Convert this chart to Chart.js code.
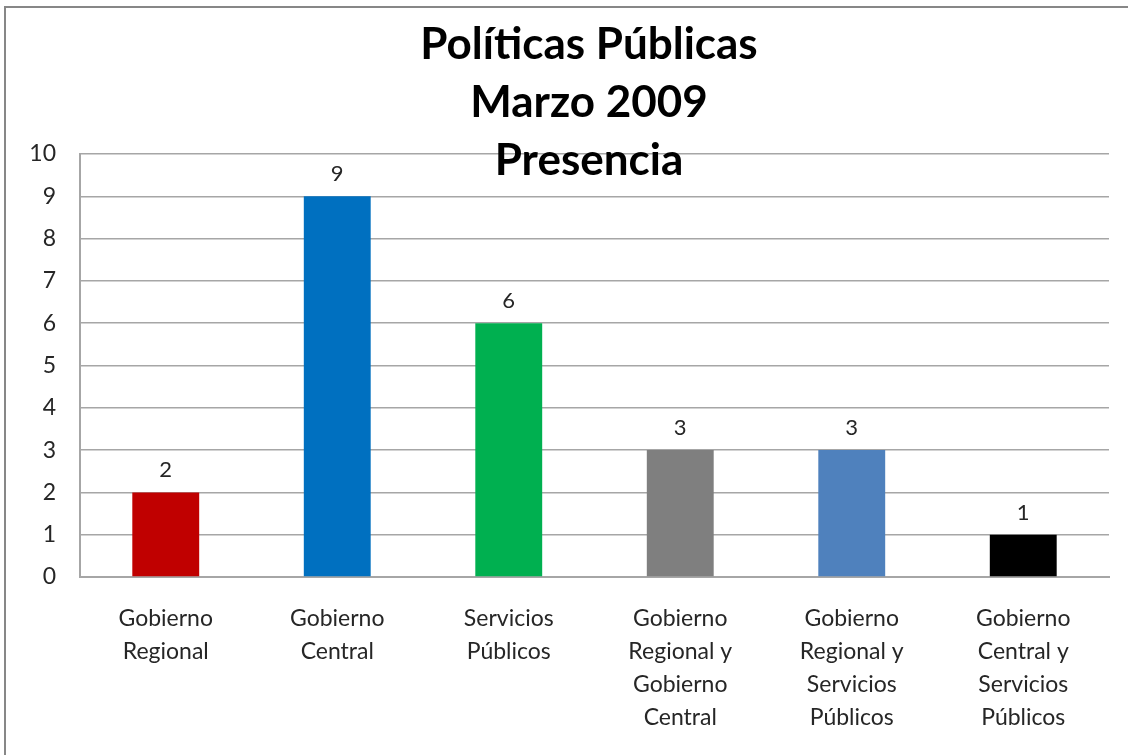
<!DOCTYPE html>
<html>
<head>
<meta charset="utf-8">
<script src="https://cdn.jsdelivr.net/npm/chart.js@4/dist/chart.umd.min.js"></script>
<style>
  html, body { margin: 0; padding: 0; background: #fff; }
  #presenciaChart { display: block; }
</style>
</head>
<body>
<canvas id="presenciaChart" width="1128" height="755"></canvas>
<script>
var categories = [
    ['Gobierno', 'Regional'],
    ['Gobierno', 'Central'],
    ['Servicios', 'Públicos'],
    ['Gobierno', 'Regional y', 'Gobierno', 'Central'],
    ['Gobierno', 'Regional y', 'Servicios', 'Públicos'],
    ['Gobierno', 'Central y', 'Servicios', 'Públicos']
];
var presencia = [2, 9, 6, 3, 3, 1];
var barColors = ['#C00000', '#0070C0', '#00B050', '#7F7F7F', '#4F81BD', '#000000'];
var titleLines = ['Políticas Públicas', 'Marzo 2009', 'Presencia'];
var yTicks = [0, 10, 1]; // min, max, step

var FONT = 'Lato, "Open Sans", sans-serif';

// frame around the chart, only top and left edges show
var framePlugin = {
    id: 'frame',
    beforeDraw: function(chart) {
        var c = chart.ctx;
        c.save();
        c.strokeStyle = '#878787';
        c.lineWidth = 2;
        c.beginPath();
        c.moveTo(5, chart.height + 5);
        c.lineTo(5, 7);
        c.lineTo(chart.width + 5, 7);
        c.stroke();
        c.restore();
    }
};

// value above each bar
var valueLabels = {
    id: 'valueLabels',
    afterDatasetsDraw: function(chart) {
        var c = chart.ctx;
        var meta = chart.getDatasetMeta(0);
        c.save();
        c.font = '22px ' + FONT;
        c.fillStyle = '#262626';
        c.textAlign = 'center';
        c.textBaseline = 'bottom';
        meta.data.forEach(function(bar, i) {
            c.fillText(String(presencia[i]), bar.x, bar.y - 11);
        });
        c.restore();
    }
};

// three-line bold title, sits over the top of the plot
var titlePlugin = {
    id: 'bigTitle',
    afterDraw: function(chart) {
        var c = chart.ctx;
        c.save();
        c.font = 'bold 44px ' + FONT;
        c.fillStyle = '#000';
        c.textAlign = 'center';
        c.textBaseline = 'middle';
        titleLines.forEach(function(line, i) {
            c.fillText(line, 589, 45 + i * 58);
        });
        c.restore();
    }
};

var ctx = document.getElementById('presenciaChart').getContext('2d');
var presenciaChart = new Chart(ctx, {
    type: 'bar',
    data: {
        labels: categories,
        datasets: [{
            label: 'Presencia',
            data: presencia,
            backgroundColor: barColors,
            borderWidth: 0,
            categoryPercentage: 1,
            barPercentage: 0.39
        }]
    },
    options: {
        responsive: false,
        animation: false,
        layout: {
            padding: { top: 154, right: 19, left: 0, bottom: 0 }
        },
        plugins: {
            legend: { display: false },
            title: { display: false },
            tooltip: { enabled: false }
        },
        scales: {
            x: {
                grid: { display: false, drawTicks: false },
                border: { display: true, color: '#A6A6A6', width: 2 },
                ticks: {
                    color: '#262626',
                    font: { family: FONT, size: 23, lineHeight: 1.44 },
                    padding: 25,
                    maxRotation: 0,
                    autoSkip: false
                },
                afterFit: function(scale) { scale.height = 178; }
            },
            y: {
                min: yTicks[0],
                max: yTicks[1],
                grid: { color: '#A6A6A6', lineWidth: 1.5, drawTicks: false },
                border: { display: true, color: '#A6A6A6', width: 2 },
                ticks: {
                    stepSize: yTicks[2],
                    color: '#262626',
                    font: { family: FONT, size: 23 },
                    padding: 24
                },
                afterFit: function(scale) { scale.width = 80; }
            }
        }
    },
    plugins: [framePlugin, valueLabels, titlePlugin]
});
</script>
</body>
</html>
